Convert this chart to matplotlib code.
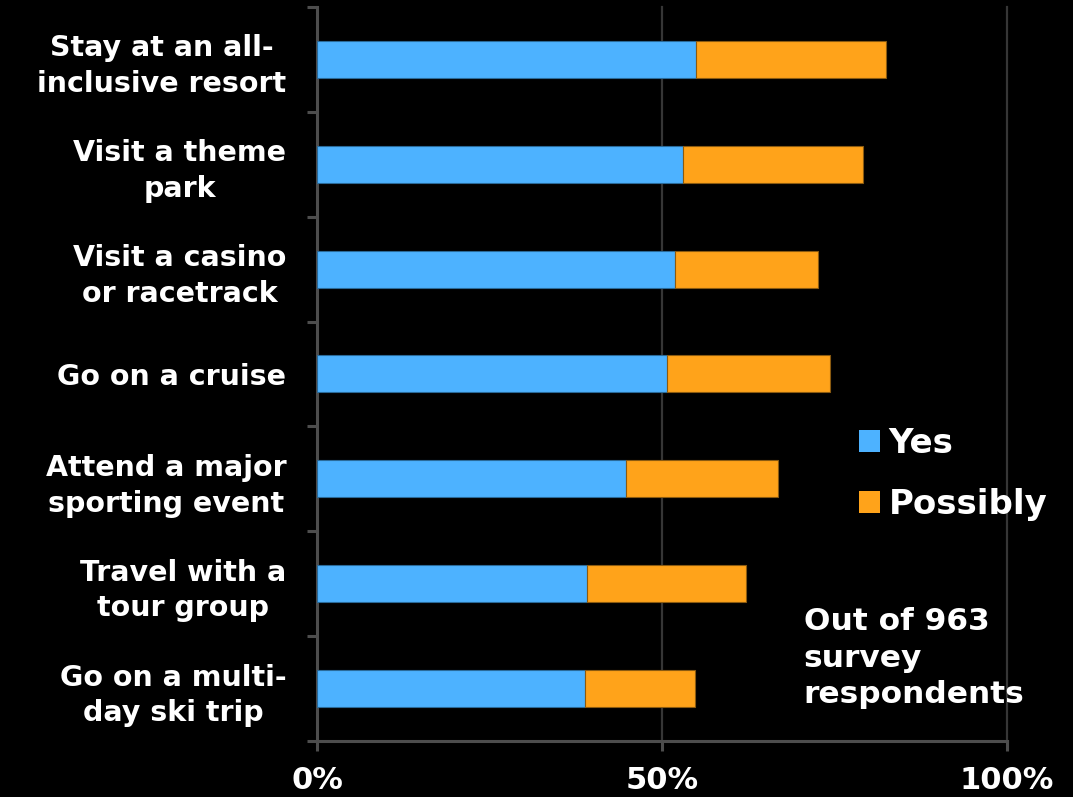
import numpy as np
import matplotlib.pyplot as plt
from matplotlib.patches import Patch

# Survey answers, percent of respondents
activities = [
    "Stay at an all-\ninclusive resort",
    "Visit a theme\npark",
    "Visit a casino\nor racetrack",
    "Go on a cruise",
    "Attend a major\nsporting event",
    "Travel with a\ntour group",
    "Go on a multi-\nday ski trip",
]
yes = [54.9, 53.0, 51.9, 50.7, 44.8, 39.1, 38.8]
possibly = [27.6, 26.1, 20.7, 23.6, 22.0, 23.1, 16.0]
xticks = [0, 50, 100]
xtick_labels = ["0%", "50%", "100%"]

blue = "#4db2ff"
orange = "#ffa31a"
axis_gray = "#4d4d4d"

plt.rcParams['font.family'] = ['DejaVu Sans']
plt.rcParams['font.weight'] = 'bold'

fig = plt.figure(figsize=(10.73, 7.97), dpi=100, facecolor="black")
ax = fig.add_axes([0.2954, 0.0703, 0.6431, 0.9210])
ax.set_facecolor("black")

y = np.arange(len(activities))
ax.barh(y, yes, height=0.353, color=blue, edgecolor="#2a6a99", linewidth=0.8, zorder=3)
ax.barh(y, possibly, left=yes, height=0.353, color=orange, edgecolor="#8a5a10",
        linewidth=0.8, zorder=3)

ax.set_xlim(0, 100)
ax.set_ylim(len(activities) - 0.5, -0.5)

# vertical gridlines at 50% and 100%
for gx in [50, 100]:
    ax.axvline(gx, color="#363636", linewidth=1.6, zorder=1, clip_on=False)

ax.set_xticks(xticks)
ax.set_xticklabels(xtick_labels, color="white", fontsize=22, fontweight="bold")
ax.tick_params(axis="x", direction="out", length=7, width=2.2, color=axis_gray, pad=11)

# category ticks sit between the bars, labels at the bar centres
ax.set_yticks(np.arange(-0.5, len(activities)), minor=False)
ax.set_yticklabels([])
ax.tick_params(axis="y", which="major", direction="out", length=7, width=2.2, color=axis_gray)
ax.set_yticks(y, minor=True)
ax.set_yticklabels(activities, minor=True, color="white", fontsize=20.5, fontweight="bold",
                   ha="right", multialignment="center", linespacing=1.35)
ax.tick_params(axis="y", which="minor", length=0, pad=22)

for side in ["top", "right"]:
    ax.spines[side].set_visible(False)
for side in ["left", "bottom"]:
    ax.spines[side].set_color(axis_gray)
    ax.spines[side].set_linewidth(2.2)

handles = [Patch(facecolor=blue), Patch(facecolor=orange)]
leg = fig.legend(handles, ["Yes", "Possibly"], loc="upper left",
                 bbox_to_anchor=(0.8006, 0.4643), frameon=False,
                 prop={"size": 24.5, "weight": "bold"}, labelcolor="white",
                 handlelength=0.62, handleheight=0.62, handletextpad=0.25,
                 labelspacing=0.82, borderpad=0, borderaxespad=0)

fig.text(0.749, 0.2384, "Out of 963\nsurvey\nrespondents", color="white",
         fontsize=22.5, fontweight="bold", ha="left", va="top", linespacing=1.33)

fig.savefig("out.png", dpi=100, facecolor="black")
